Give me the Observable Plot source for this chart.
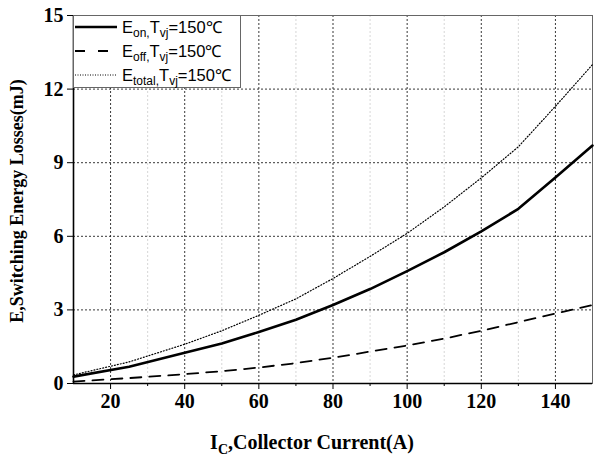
<!DOCTYPE html>
<html>
<head>
<meta charset="utf-8">
<script src="https://cdn.jsdelivr.net/npm/d3@7"></script>
<script src="https://cdn.jsdelivr.net/npm/@observablehq/plot@0.6"></script>
<style>
html,body{margin:0;padding:0;background:#fff;}
</style>
</head>
<body>
<div id="chart"></div>
<script>
const current = [10, 25, 40, 50, 60, 70, 80, 90, 100, 110, 120, 130, 140, 150];
const eon    = [0.28, 0.68, 1.25, 1.63, 2.1, 2.6, 3.2, 3.85, 4.58, 5.35, 6.2, 7.12, 8.4, 9.7];
const eoff   = [0.08, 0.22, 0.38, 0.5, 0.65, 0.83, 1.05, 1.3, 1.55, 1.83, 2.15, 2.5, 2.85, 3.2];
const etotal = [0.35, 0.88, 1.6, 2.15, 2.78, 3.45, 4.28, 5.18, 6.12, 7.2, 8.38, 9.65, 11.3, 13.0];
const xMajor = [20, 40, 60, 80, 100, 120, 140];
const xMinor = [30, 50, 70, 90, 110, 130];
const yTicks = [0, 3, 6, 9, 12, 15];
const series = [
  {name: "on", values: eon, dash: null, width: 2.6},
  {name: "off", values: eoff, dash: "11,8", width: 1.8},
  {name: "total", values: etotal, dash: "1,2", width: 1.2}
];
const legendDash = [null, "10,13", "1,1.5"];

const rows = series.map(s => current.map((c, i) => ({x: c, y: s.values[i]})));
const tickFont = {fontSize: 20, fontWeight: "bold", fontFamily: "Liberation Serif, Times New Roman, serif"};

const plot = Plot.plot({
  width: 595,
  height: 459,
  marginLeft: 73,
  marginRight: 3,
  marginTop: 15,
  marginBottom: 76,
  x: {domain: [10, 150]},
  y: {domain: [0, 15]},
  style: {background: "#fff", color: "#000"},
  marks: [
    Plot.gridX(xMinor, {stroke: "#bbb", strokeOpacity: 0.6, strokeDasharray: "2,2"}),
    Plot.gridX(xMajor, {stroke: "#222", strokeOpacity: 0.9, strokeDasharray: "2,2"}),
    Plot.gridY([3, 6, 9, 12], {stroke: "#222", strokeOpacity: 0.9, strokeDasharray: "2,2"}),
    Plot.frame({stroke: "#666", strokeWidth: 1}),
    ...series.map((s, k) => Plot.line(rows[k], {x: "x", y: "y", stroke: "#000", strokeWidth: s.width, strokeDasharray: s.dash})),
    Plot.axisX(xMinor, {tickSize: 3, tickFormat: () => "", label: null}),
    Plot.axisX(xMajor, {tickSize: 6, tickPadding: 4, label: null, ...tickFont}),
    Plot.axisY(yTicks, {tickSize: 6, tickPadding: 4, label: null, ...tickFont}),
    Plot.ruleX([10], {stroke: "#000", strokeWidth: 1.6}),
    Plot.ruleY([0], {stroke: "#000", strokeWidth: 1.6})
  ]
});

const svg = d3.select(plot);
// x axis label
const xl = svg.append("text")
  .attr("x", 312).attr("y", 449)
  .attr("text-anchor", "middle")
  .attr("font-family", "Liberation Serif, Times New Roman, serif")
  .attr("font-weight", "bold").attr("font-size", 20).attr("fill", "#000");
xl.append("tspan").text("I");
xl.append("tspan").attr("font-size", 14).attr("dy", 5).text("C");
xl.append("tspan").attr("dy", -5).text(",Collector Current(A)");

// y axis label
svg.append("text")
  .attr("transform", "translate(23,201) rotate(-90)")
  .attr("text-anchor", "middle")
  .attr("font-family", "Liberation Serif, Times New Roman, serif")
  .attr("font-weight", "bold").attr("font-size", 18).attr("fill", "#000")
  .text("E,Switching Energy Losses(mJ)");

// legend
const lg = svg.append("g");
lg.append("rect").attr("x", 73.5).attr("y", 15.5).attr("width", 167).attr("height", 72)
  .attr("fill", "#fff").attr("stroke", "#666");
series.forEach((s, k) => {
  const yy = 27 + k * 24;
  lg.append("line").attr("x1", 75).attr("x2", 117).attr("y1", yy).attr("y2", yy)
    .attr("stroke", "#000").attr("stroke-width", k === 2 ? 1 : s.width)
    .attr("stroke-dasharray", legendDash[k]);
  const t = lg.append("text").attr("x", 122).attr("y", yy + 6)
    .attr("text-anchor", "start")
    .attr("font-family", "Liberation Sans, Arial, sans-serif").attr("font-size", 16.5).attr("fill", "#000");
  t.append("tspan").text("E");
  t.append("tspan").attr("font-size", 12).attr("dy", 4).text(s.name + ",");
  t.append("tspan").attr("dy", -4).text("T");
  t.append("tspan").attr("font-size", 12).attr("dy", 4).text("vj");
  t.append("tspan").attr("dy", -4).text("=150℃");
});

document.getElementById("chart").appendChild(plot);
</script>
</body>
</html>
